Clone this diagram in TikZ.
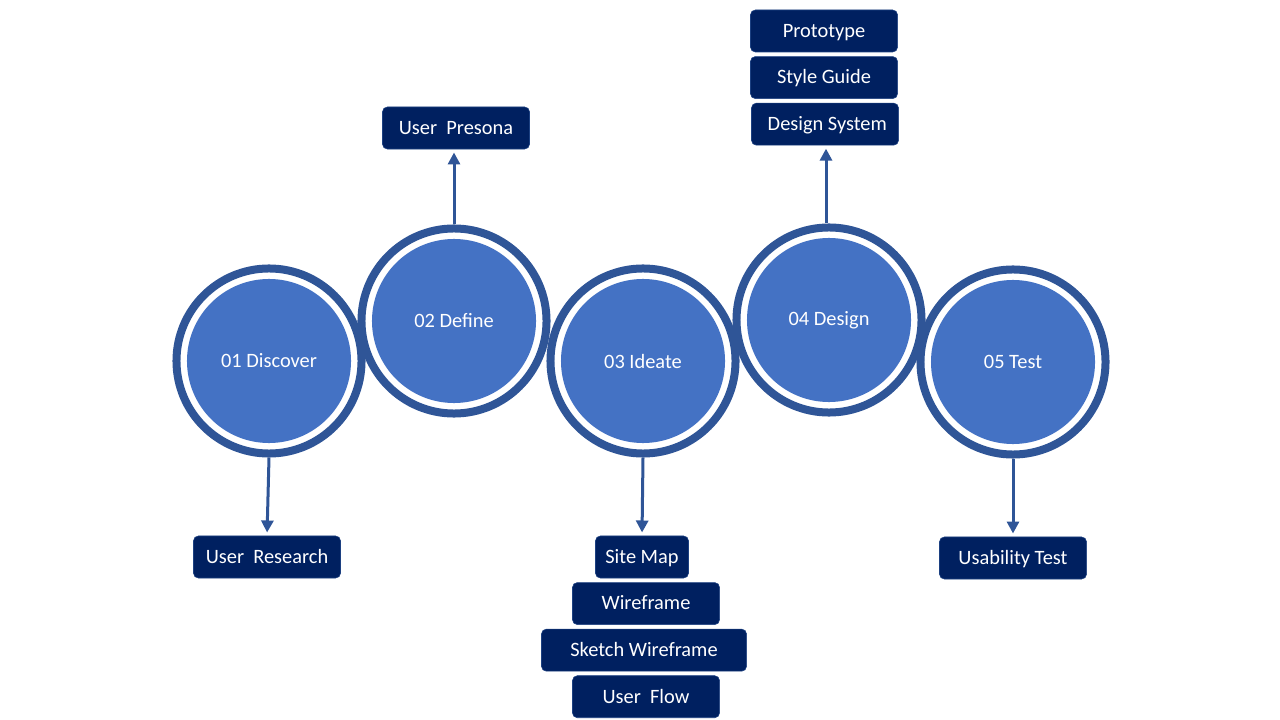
\documentclass[tikz,border=0pt]{standalone}
\usepackage{fontspec}
\setmainfont{Carlito}
\usetikzlibrary{positioning}
\usetikzlibrary{arrows.meta}
\definecolor{ringblue}{HTML}{2F5597}
\definecolor{fillblue}{HTML}{4472C4}
\definecolor{navy}{HTML}{002060}
\def\gap{0.1cm}
\def\sp{\hspace{0.45em}}
\tikzset{
    stage/.style = {
        circle, draw=ringblue, fill=white, line width=0.2cm, minimum size=4.625cm,
        text=white, font=\fontsize{14.5}{17}\selectfont,
        path picture={\fill[fillblue] (path picture bounding box.center) circle (2.05cm);}
    },
    task/.style = {
        draw=ringblue!60!navy, thin, fill=navy, rounded corners=0.12cm,
        minimum width=3.675cm, minimum height=1.05cm, inner sep=0pt,
        text height=1em, text depth=0.1em,
        text=white, font=\fontsize{14.5}{17}\selectfont
    },
    link/.style = {
        draw=ringblue, line width=0.075cm, -{Triangle[width=0.3cm,length=0.3cm]}, shorten >=0.08cm
    }
}

\begin{document}
\begin{tikzpicture}[x=0.025cm, y=-0.025cm]
        \useasboundingbox (0,0) rectangle (1280,720);
        % Place the stages
        \node[stage] (discover) at (269,361) {01 Discover};
        \node[stage] (define) at (454,321) {02 Define};
        \node[stage] (ideate) at (643,361) {03 Ideate};
        \node[stage] (design) at (829,320) {04 Design};
        \node[stage] (test) at (1013,362) {05 Test};
        % Place the tasks
        \node[task] (research) at (267,557) {User\sp Research};
        \node[task] (persona) at (456,128) {User\sp Presona};
        \node[task] (prototype) at (824,31) {Prototype};
        \node[task, below=\gap of prototype] (style) {Style Guide};
        \node[task, below=\gap of style, xshift=0.025cm] (system) {~Design System};
        \node[task, minimum width=2.325cm] (sitemap) at (642,557) {Site Map};
        \node[task, below=\gap of sitemap, xshift=0.1cm] (wireframe) {Wireframe};
        \node[task, below=\gap of wireframe, minimum width=5.125cm, xshift=-0.05cm] (sketch) {Sketch Wireframe};
        \node[task, below=\gap of sketch, xshift=0.05cm] (flow) {User\sp Flow};
        \node[task] (usability) at (1013,558) {Usability Test};
        % Connect them
        \draw[link] (discover.south) -- (research.north);
        \draw[link] (define.north) -- (define.north |- persona.south);
        \draw[link] (ideate.south) -- (sitemap.north);
        \draw[link] ([xshift=-0.075cm]design.north) -- ([xshift=-0.075cm]design.north |- system.south);
        \draw[link] (test.south) -- (usability.north);
    \end{tikzpicture}
\end{document}
